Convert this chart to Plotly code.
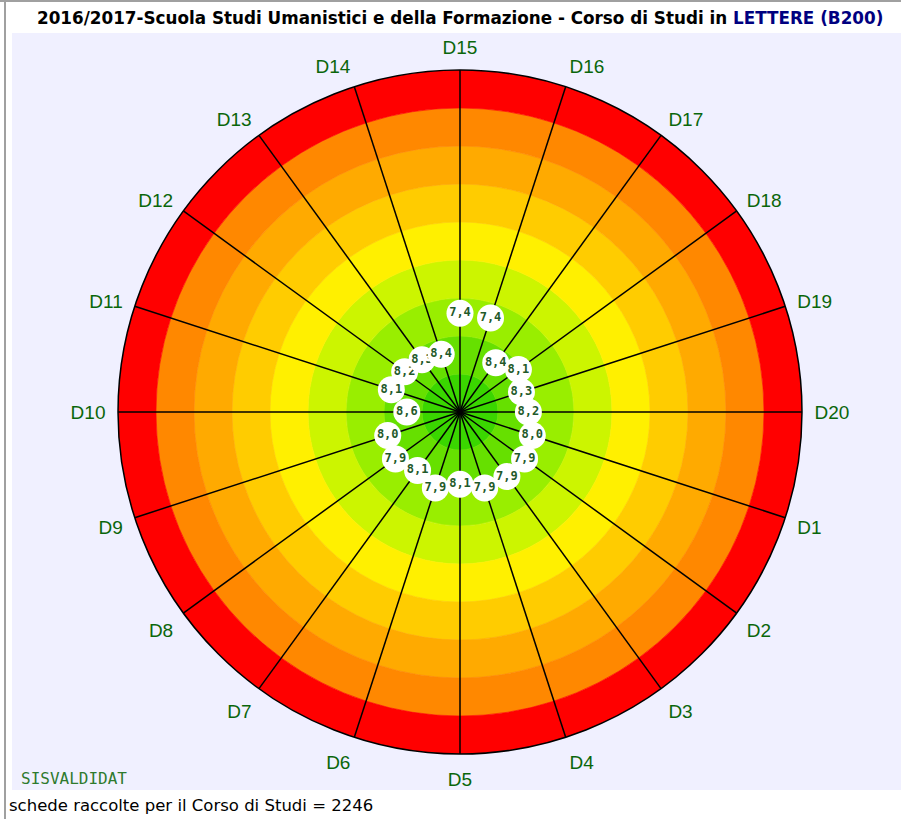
import plotly.graph_objects as go

# Data
directions = [f"D{k}" for k in range(1, 21)]
scores = [8.0, 7.9, 7.9, 7.9, 8.1, 7.9, 8.1, 7.9, 8.0, 8.6,
          8.1, 8.2, 8.3, 8.4, 7.4, 7.4, 8.4, 8.1, 8.3, 8.2]
score_max = 10
score_min = 1
ring_colors = ["#3ad600", "#66e000", "#99ee00", "#ccf500", "#fff000",
               "#ffcc00", "#ffaa00", "#ff8800", "#ff0000"]

title_html = ("<b>2016/2017-Scuola Studi Umanistici e della Formazione - Corso di Studi in "
              "<span style='color:#000080'>LETTERE (B200)</span></b>")
footer = "schede raccolte per il Corso di Studi = 2246"
brand = "SISVALDIDAT"

# D20 points east, D15 north, angles grow counterclockwise
angles = [(20 - k) * 18 for k in range(1, 21)]
span = score_max - score_min
W, H = 901, 819

fig = go.Figure()

# coloured rings (distance from centre = 10 - score)
for i, col in enumerate(ring_colors):
    fig.add_trace(go.Barpolar(
        r=[1] * 20, base=[i] * 20, theta=[a + 9 for a in angles], width=[18] * 20,
        marker=dict(color=col, line=dict(color=col, width=0.6)),
        hoverinfo="skip", showlegend=False))

# spokes
sr, st = [], []
for a in angles:
    sr += [0, span, None]
    st += [a, a, None]
fig.add_trace(go.Scatterpolar(r=sr, theta=st, mode="lines",
                              line=dict(color="black", width=1.5),
                              hoverinfo="skip", showlegend=False))

# value badges
for d, a, s in zip(directions, angles, scores):
    fig.add_trace(go.Scatterpolar(
        r=[score_max - s], theta=[a], mode="markers+text",
        text=[f"{s:.1f}".replace(".", ",")], textposition="middle center",
        textfont=dict(family="DejaVu Sans Mono", size=12, color="#1f5a2a", weight="bold"),
        marker=dict(size=27, color="white", line=dict(width=0)),
        name=d, showlegend=False))

cx, cy, R = 460, 412, 342
fig.update_layout(
    width=W, height=H,
    margin=dict(l=0, r=0, t=0, b=0),
    paper_bgcolor="white",
    showlegend=False,
    barmode="overlay",
    polar=dict(
        domain=dict(x=[(cx - R) / W, (cx + R) / W], y=[(H - cy - R) / H, (H - cy + R) / H]),
        bgcolor="#f0f0ff",
        bargap=0,
        radialaxis=dict(range=[0, span], showticklabels=False, ticks="",
                        showgrid=False, showline=False),
        angularaxis=dict(rotation=0, direction="counterclockwise",
                         tickmode="array", tickvals=angles, ticktext=directions,
                         showgrid=False, showline=True, linecolor="black", linewidth=1.5,
                         ticks="outside", ticklen=8, tickcolor="rgba(0,0,0,0)",
                         tickfont=dict(family="Liberation Sans", size=19, color="#0a660a"),
                         layer="above traces"),
    ),
    shapes=[
        dict(type="rect", xref="paper", yref="paper", x0=12 / W, x1=1,
             y0=(H - 790) / H, y1=(H - 33) / H, fillcolor="#f0f0ff",
             line=dict(width=0), layer="below"),
        dict(type="line", xref="paper", yref="paper", x0=0, x1=1, y0=1 - 1 / H, y1=1 - 1 / H,
             line=dict(color="#a0a0a0", width=2), layer="below"),
        dict(type="line", xref="paper", yref="paper", x0=5 / W, x1=5 / W, y0=0, y1=1,
             line=dict(color="#a0a0a0", width=2), layer="below"),
    ],
    annotations=[
        dict(text=title_html, x=cx / W, y=(H - 18) / H, xref="paper", yref="paper",
             xanchor="center", yanchor="middle", showarrow=False,
             font=dict(family="DejaVu Sans", size=16.8, color="black")),
        dict(text=footer, x=7 / W, y=(H - 805) / H, xref="paper", yref="paper",
             xanchor="left", yanchor="middle", showarrow=False,
             font=dict(family="DejaVu Sans", size=16.5, color="black")),
        dict(text=brand, x=19 / W, y=(H - 778) / H, xref="paper", yref="paper",
             xanchor="left", yanchor="middle", showarrow=False,
             font=dict(family="DejaVu Sans Mono", size=16, color="#2e7a2e")),
    ],
)

fig.write_html("out.html", config={"displayModeBar": False},
               post_script="document.body.style.margin='0';")
